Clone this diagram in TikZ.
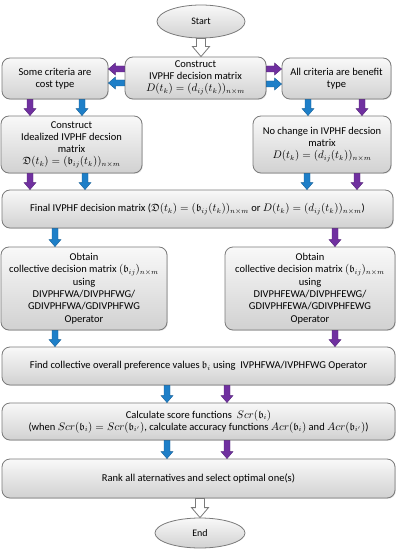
\documentclass[tikz,border=0pt]{standalone}
\usepackage{amsmath,amssymb}
\usepackage{fontspec}
\setmainfont{Carlito}
\usetikzlibrary{shapes.geometric,calc,shadows}
\definecolor{bl}{HTML}{1E7FC8}
\definecolor{pu}{HTML}{7030A0}
\definecolor{bd}{HTML}{7A7A7A}
\tikzset{
  box/.style={draw=bd, line width=0.8pt, rounded corners=8pt, top color=gray!5, bottom color=gray!36,
    align=center, inner sep=1pt, font=\fontsize{10.5}{12}\selectfont,
    drop shadow={shadow xshift=0.8pt, shadow yshift=-0.8pt, opacity=0.25}},
  oval/.style={ellipse, draw=bd, line width=0.8pt, top color=gray!5, bottom color=gray!36,
    inner sep=0pt, font=\fontsize{10}{12}\selectfont},
  barr/.style={fill=#1, draw=#1!75!black, line width=0.4pt},
  harr/.style={fill=white, draw=bd, line width=0.8pt}
}
% vertical block arrow between two named points: #1 style, #2 top point, #3 bottom point
\newcommand{\darrow}[3]{\draw[#1] let \p1=(#2), \p2=(#3) in
  (\x1-3pt,\y1) -- (\x1-3pt,\y2+7pt) -- (\x1-6pt,\y2+7pt) -- (\x1,\y2) -- (\x1+6pt,\y2+7pt) -- (\x1+3pt,\y2+7pt) -- (\x1+3pt,\y1) -- cycle;}
% horizontal block arrow from #2 to #3 (tip at #3)
\newcommand{\harrow}[3]{\draw[#1] let \p1=(#2), \p2=(#3), \n1={ifthenelse(\x2>\x1,1,-1)} in
  (\x1,\y1-3pt) -- (\x2-\n1*7pt,\y1-3pt) -- (\x2-\n1*7pt,\y1-6pt) -- (\x2,\y1) -- (\x2-\n1*7pt,\y1+6pt) -- (\x2-\n1*7pt,\y1+3pt) -- (\x1,\y1+3pt) -- cycle;}
\newcommand{\hollowarrow}[2]{\draw[harr] let \p1=(#1), \p2=(#2) in
  (\x1-4.5pt,\y1) -- (\x1-4.5pt,\y2+10pt) -- (\x1-8.5pt,\y2+10pt) -- (\x1,\y2) -- (\x1+8.5pt,\y2+10pt) -- (\x1+4.5pt,\y2+10pt) -- (\x1+4.5pt,\y1) -- cycle;}
\begin{document}
\begin{tikzpicture}[x=1pt,y=-1pt]
\useasboundingbox (0,0) rectangle (401,559);
\node[oval, minimum width=88pt, minimum height=33pt] (start) at (201,21.5) {Start};
\node[box, minimum width=141pt, minimum height=42pt] (cons) at (195.5,78) {Construct\\IVPHF decision matrix\\$D(t_k)=(d_{ij}(t_k))_{n\times m}$};
\node[box, minimum width=106pt, minimum height=41pt] (cost) at (55,78.5) {Some criteria are\\cost type};
\node[box, minimum width=109pt, minimum height=41pt] (ben) at (336.5,78.5) {All criteria are benefit\\type};
\node[box, minimum width=141pt, minimum height=57pt] (ideal) at (71.5,144.5) {Construct\\Idealized IVPHF decsion\\matrix\\$\mathfrak{D}(t_k)=(\mathfrak{b}_{ij}(t_k))_{n\times m}$};
\node[box, minimum width=138pt, minimum height=57pt] (noch) at (322,144.5) {No change in IVPHF decsion\\matrix\\$D(t_k)=(d_{ij}(t_k))_{n\times m}$};
\node[box, minimum width=391pt, minimum height=38pt] (final) at (197.5,209) {Final IVPHF decision matrix ($\mathfrak{D}(t_k)=(\mathfrak{b}_{ij}(t_k))_{n\times m}$ or $D(t_k)=(d_{ij}(t_k))_{n\times m}$)};
\node[box, minimum width=166pt, minimum height=83pt, font=\fontsize{10.5}{12.4}\selectfont] (obl) at (84,288.5) {Obtain\\collective decision matrix $(\mathfrak{b}_{ij})_{n\times m}$\\using\\DIVPHFWA/DIVPHFWG/\\GDIVPHFWA/GDIVPHFWG\\Operator};
\node[box, minimum width=170pt, minimum height=83pt, font=\fontsize{10.5}{12.4}\selectfont] (obr) at (310,288.5) {Obtain\\collective decision matrix $(\mathfrak{b}_{ij})_{n\times m}$\\using\\DIVPHFEWA/DIVPHFEWG/\\GDIVPHFEWA/GDIVPHFEWG\\Operator};
\node[box, minimum width=393pt, minimum height=38pt] (find) at (198.5,366) {Find collective overall preference values $\mathfrak{b}_i$ using\ \ IVPHFWA/IVPHFWG Operator};
\node[box, minimum width=393pt, minimum height=37pt] (calc) at (198.5,421.5) {Calculate score functions\ \ $Scr(\mathfrak{b}_i)$\\(when $Scr(\mathfrak{b}_i)=Scr(\mathfrak{b}_{i'})$, calculate accuracy functions $Acr(\mathfrak{b}_i)$ and $Acr(\mathfrak{b}_{i'})$)};
\node[box, minimum width=393pt, minimum height=39pt] (rank) at (198.5,478.5) {Rank all aternatives and select optimal one(s)};
\node[oval, minimum width=90pt, minimum height=30pt] (end) at (200,533) {End};
% hollow arrows
\hollowarrow{start.south}{cons.north -| start.south}
\hollowarrow{rank.south -| end.north}{end.north}
% horizontal
\harrow{barr=pu}{cons.west |- 0,69}{cost.east |- 0,69}
\harrow{barr=bl}{cons.west |- 0,83}{cost.east |- 0,83}
\harrow{barr=pu}{cons.east |- 0,69}{ben.west |- 0,69}
\harrow{barr=bl}{cons.east |- 0,84}{ben.west |- 0,84}
% vertical
\foreach \xx/\cc/\aa/\bb in {30/pu/cost/ideal, 82/bl/cost/ideal, 308/bl/ben/noch, 362/pu/ben/noch,
  30/pu/ideal/final, 85/bl/ideal/final, 307/bl/noch/final, 357/pu/noch/final,
  55/bl/final/obl, 335/pu/final/obr, 55/bl/obl/find, 335/pu/obr/find,
  167/bl/find/calc, 227/pu/find/calc, 167/bl/calc/rank, 227/pu/calc/rank}{
  \darrow{barr=\cc}{\aa.south -| \xx,0}{\bb.north -| \xx,0}
}
\end{tikzpicture}
\end{document}
